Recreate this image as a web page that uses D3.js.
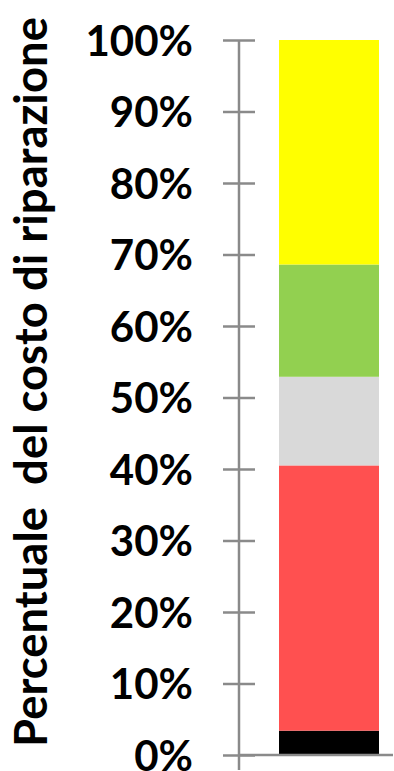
<!DOCTYPE html>
<html>
<head>
<meta charset="utf-8">
<script src="https://cdn.jsdelivr.net/npm/d3@7"></script>
<style>
  html, body { margin: 0; padding: 0; background: #fff; }
  svg { display: block; }
</style>
</head>
<body>
<svg id="chart" width="394" height="771"></svg>
<script>
// Share of repair cost, one stacked column (percent of total)
const categories = ["Totale"];
const segmentNames = ["Nero", "Rosso", "Grigio", "Verde", "Giallo"];
const segmentValues = [3.4, 37.1, 12.4, 15.7, 31.4];
const segmentColors = ["#000000", "#FF5050", "#D9D9D9", "#92D050", "#FFFF00"];
const tickValues = [0, 10, 20, 30, 40, 50, 60, 70, 80, 90, 100];
const tickLabels = tickValues.map(v => v + "%");
const axisTitle = "Percentuale  del costo di riparazione";

const svg = d3.select("#chart");
const axisColor = "#8a8a8a";
const fontFam = "Lato, 'Open Sans', 'Liberation Sans', sans-serif";

const y = d3.scaleLinear().domain([0, 100]).range([755, 40]);
const x = d3.scaleBand().domain(categories).range([279, 379]).padding(0);

// stack the segments
const row = { cat: categories[0] };
segmentNames.forEach((n, i) => row[n] = segmentValues[i]);
const stacked = d3.stack().keys(segmentNames)([row]);

svg.append("g").selectAll("rect")
  .data(stacked)
  .join("rect")
  .attr("x", d => x(d[0].data.cat))
  .attr("width", x.bandwidth())
  .attr("y", d => y(d[0][1]))
  .attr("height", d => y(d[0][0]) - y(d[0][1]))
  .attr("fill", (d, i) => segmentColors[i]);

// y axis: line with ticks crossing it
const axisX = 239;
const yAxis = d3.axisLeft(y)
  .tickValues(tickValues)
  .tickFormat((d, i) => tickLabels[i])
  .tickSizeInner(0)
  .tickSizeOuter(0)
  .tickPadding(46);

const gAxis = svg.append("g").attr("transform", `translate(${axisX},0)`).call(yAxis);
gAxis.select(".domain").remove();
gAxis.selectAll(".tick text")
  .attr("font-family", fontFam)
  .attr("font-weight", "bold")
  .attr("font-size", 42)
  .attr("fill", "#000")
  .attr("dy", "0.36em");
gAxis.selectAll(".tick").append("line")
  .attr("x1", -16).attr("x2", 16)
  .attr("stroke", axisColor).attr("stroke-width", 2.5);

svg.append("line")
  .attr("x1", axisX).attr("x2", axisX)
  .attr("y1", y(100)).attr("y2", 770)
  .attr("stroke", axisColor).attr("stroke-width", 2.5);

// category baseline
svg.append("line")
  .attr("x1", axisX).attr("x2", 393)
  .attr("y1", y(0)).attr("y2", y(0))
  .attr("stroke", axisColor).attr("stroke-width", 2.5);

// rotated axis title
const title = svg.append("text")
  .attr("transform", "translate(47,382) rotate(-90)")
  .attr("text-anchor", "middle")
  .attr("font-family", fontFam)
  .attr("font-weight", "bold")
  .attr("font-size", 40)
  .attr("fill", "#000")
  .style("white-space", "pre")
  .attr("xml:space", "preserve")
  .text(axisTitle);
const len = title.node().getComputedTextLength();
title.attr("font-size", 40 * 730 / len);
</script>
</body>
</html>
